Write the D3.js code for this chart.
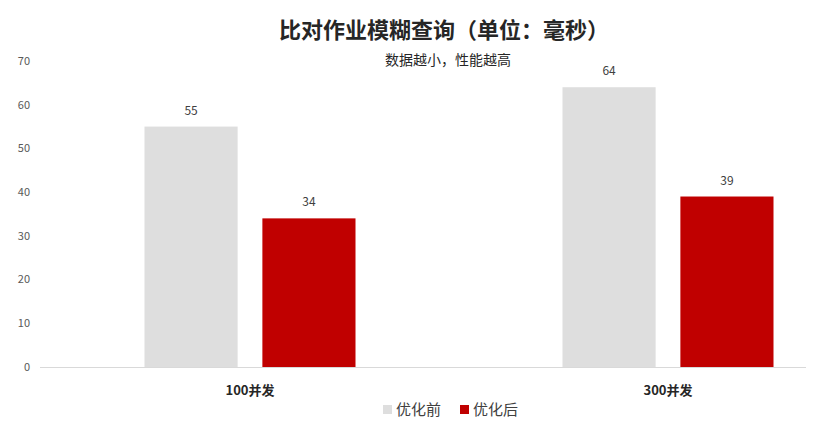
<!DOCTYPE html>
<html>
<head>
<meta charset="utf-8">
<script src="https://cdn.jsdelivr.net/npm/d3@7"></script>
<style>
  body { margin: 0; background: #fff; }
  text { font-family: "Noto Sans CJK SC", "Noto Sans", sans-serif; }
</style>
</head>
<body>
<div id="chart"></div>
<script>
// data
var categories = ["100并发", "300并发"];
var seriesNames = ["优化前", "优化后"];
var before = [55, 64];
var after = [34, 39];
var yTicks = [0, 10, 20, 30, 40, 50, 60, 70];
var colours = ["#dedede", "#c00000"];

var width = 820, height = 424;

var svg = d3.select("#chart").append("svg")
    .attr("width", width)
    .attr("height", height);

// scales
var x = d3.scaleBand().domain(categories).range([41, 877]);
var inner = d3.scaleBand().domain(seriesNames).range([-105.5, 105.5]).paddingInner(0.21);
var y = d3.scaleLinear().domain([0, 70]).range([367, 61]);

// title
svg.append("text")
    .attr("x", 444).attr("y", 38)
    .attr("text-anchor", "middle")
    .style("font-size", "22px")
    .style("font-weight", "bold")
    .attr("fill", "#262626")
    .text("比对作业模糊查询（单位：毫秒）");

svg.append("text")
    .attr("x", 448).attr("y", 65)
    .attr("text-anchor", "middle")
    .style("font-size", "14px")
    .attr("fill", "#262626")
    .text("数据越小，性能越高");

// y axis labels
svg.append("g").selectAll("text")
    .data(yTicks)
    .enter().append("text")
    .attr("x", 30)
    .attr("y", function (d) { return y(d); })
    .attr("dy", "0.35em")
    .attr("text-anchor", "end")
    .style("font-size", "11px")
    .attr("fill", "#595959")
    .text(function (d) { return d; });

// bars
var rows = categories.map(function (c, i) {
    return { cat: c, values: [before[i], after[i]] };
});

var groups = svg.selectAll(".grp")
    .data(rows)
    .enter().append("g")
    .attr("class", "grp")
    .attr("transform", function (d) { return "translate(" + (x(d.cat) + x.bandwidth() / 2) + ",0)"; });

groups.selectAll("rect")
    .data(function (d) { return d.values.map(function (v, j) { return { name: seriesNames[j], v: v, j: j }; }); })
    .enter().append("rect")
    .attr("x", function (d) { return inner(d.name); })
    .attr("width", inner.bandwidth())
    .attr("y", function (d) { return y(d.v); })
    .attr("height", function (d) { return y(0) - y(d.v); })
    .attr("fill", function (d) { return colours[d.j]; });

groups.selectAll(".lbl")
    .data(function (d) { return d.values.map(function (v, j) { return { name: seriesNames[j], v: v }; }); })
    .enter().append("text")
    .attr("class", "lbl")
    .attr("x", function (d) { return inner(d.name) + inner.bandwidth() / 2; })
    .attr("y", function (d) { return y(d.v) - 12; })
    .attr("text-anchor", "middle")
    .style("font-size", "12px")
    .attr("fill", "#404040")
    .text(function (d) { return d.v; });

// baseline
svg.append("line")
    .attr("x1", 40).attr("x2", 806)
    .attr("y1", y(0) + 0.5).attr("y2", y(0) + 0.5)
    .attr("stroke", "#d9d9d9");

// category labels
svg.selectAll(".cat")
    .data(categories)
    .enter().append("text")
    .attr("class", "cat")
    .attr("x", function (d) { return x(d) + x.bandwidth() / 2; })
    .attr("y", 395)
    .attr("text-anchor", "middle")
    .style("font-size", "13px")
    .style("font-weight", "bold")
    .attr("fill", "#262626")
    .text(function (d) { return d; });

// legend
var legendX = [383, 460];
var legend = svg.selectAll(".leg")
    .data(seriesNames)
    .enter().append("g")
    .attr("class", "leg")
    .attr("transform", function (d, i) { return "translate(" + legendX[i] + ",405)"; });

legend.append("rect")
    .attr("width", 9).attr("height", 9)
    .attr("fill", function (d, i) { return colours[i]; });

legend.append("text")
    .attr("x", 13).attr("y", 10)
    .style("font-size", "15px")
    .attr("fill", "#404040")
    .text(function (d) { return d; });
</script>
</body>
</html>
